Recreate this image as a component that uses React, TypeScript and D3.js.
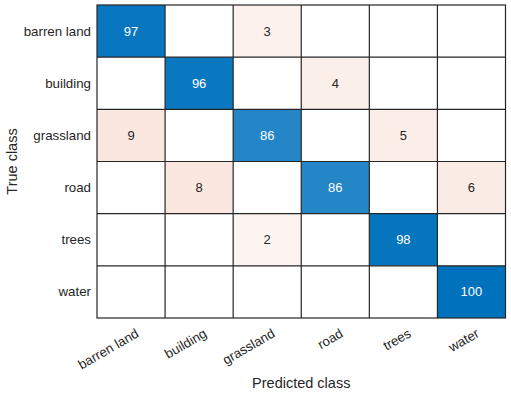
import React from "react";
import * as d3 from "d3";

const classes = ["barren land", "building", "grassland", "road", "trees", "water"];
// rows = true class, columns = predicted class
const row0 = [97, 0, 3, 0, 0, 0];
const row1 = [0, 96, 0, 4, 0, 0];
const row2 = [9, 0, 86, 0, 5, 0];
const row3 = [0, 8, 0, 86, 0, 6];
const row4 = [0, 0, 2, 0, 98, 0];
const row5 = [0, 0, 0, 0, 0, 100];
const matrix = [row0, row1, row2, row3, row4, row5];

const W = 511, H = 396;
const left = 97, top = 5, right = 505.5, bottom = 318;
const FONT = "'Liberation Sans', Arial, Helvetica, sans-serif";
const TEXT = "#262626";

export default function App() {
  const x = d3.scaleBand().domain(classes).range([left, right]);
  const y = d3.scaleBand().domain(classes).range([top, bottom]);
  const diagColor = (v: number) => d3.interpolateRgb("#ffffff", "#0072BD")(v / 100);
  const offColor = (v: number) => d3.interpolateRgb("#ffffff", "#D95319")(0.047 * Math.sqrt(v));

  const cells: any[] = [];
  matrix.forEach((row, i) => {
    row.forEach((v, j) => {
      cells.push({ r: classes[i], c: classes[j], v, diag: i === j });
    });
  });

  return (
    <svg width={W} height={H} style={{ position: "absolute", left: 0, top: 0 }} fontFamily={FONT}>
      <rect x={0} y={0} width={W} height={H} fill="#ffffff" />
      {cells.map((d, k) => (
        <rect
          key={"c" + k}
          x={x(d.c)}
          y={y(d.r)}
          width={x.bandwidth()}
          height={y.bandwidth()}
          fill={d.v === 0 ? "#ffffff" : d.diag ? diagColor(d.v) : offColor(d.v)}
        />
      ))}
      {classes.map((c, k) =>
        k === 0 ? null : (
          <line key={"vx" + k} x1={x(c)} x2={x(c)} y1={top} y2={bottom} stroke={TEXT} strokeWidth={1.2} />
        )
      )}
      {classes.map((c, k) =>
        k === 0 ? null : (
          <line key={"hy" + k} x1={left} x2={right} y1={y(c)} y2={y(c)} stroke={TEXT} strokeWidth={1.2} />
        )
      )}
      <rect x={left} y={top} width={right - left} height={bottom - top} fill="none" stroke={TEXT} strokeWidth={1.2} />
      {cells.filter((d) => d.v !== 0).map((d, k) => (
        <text
          key={"t" + k}
          x={(x(d.c) as number) + x.bandwidth() / 2}
          y={(y(d.r) as number) + y.bandwidth() / 2}
          textAnchor="middle"
          dominantBaseline="central"
          fontSize={13}
          fill={d.diag && d.v > 50 ? "#ffffff" : TEXT}
        >
          {d.v}
        </text>
      ))}
      {classes.map((c) => (
        <text
          key={"yl" + c}
          x={left - 6}
          y={(y(c) as number) + y.bandwidth() / 2}
          textAnchor="end"
          dominantBaseline="central"
          fontSize={13.3}
          fill={TEXT}
        >
          {c}
        </text>
      ))}
      {classes.map((c) => {
        const cx = (x(c) as number) + x.bandwidth() / 2 + 4;
        const cy = bottom + 10;
        return (
          <text
            key={"xl" + c}
            transform={`translate(${cx},${cy}) rotate(-30)`}
            textAnchor="end"
            dy="0.7em"
            fontSize={13.3}
            fill={TEXT}
          >
            {c}
          </text>
        );
      })}
      <text x={(left + right) / 2} y={388} textAnchor="middle" fontSize={14.5} fill={TEXT}>
        Predicted class
      </text>
      <text
        transform={`translate(17,${(top + bottom) / 2}) rotate(-90)`}
        textAnchor="middle"
        fontSize={14.5}
        fill={TEXT}
      >
        True class
      </text>
    </svg>
  );
}
